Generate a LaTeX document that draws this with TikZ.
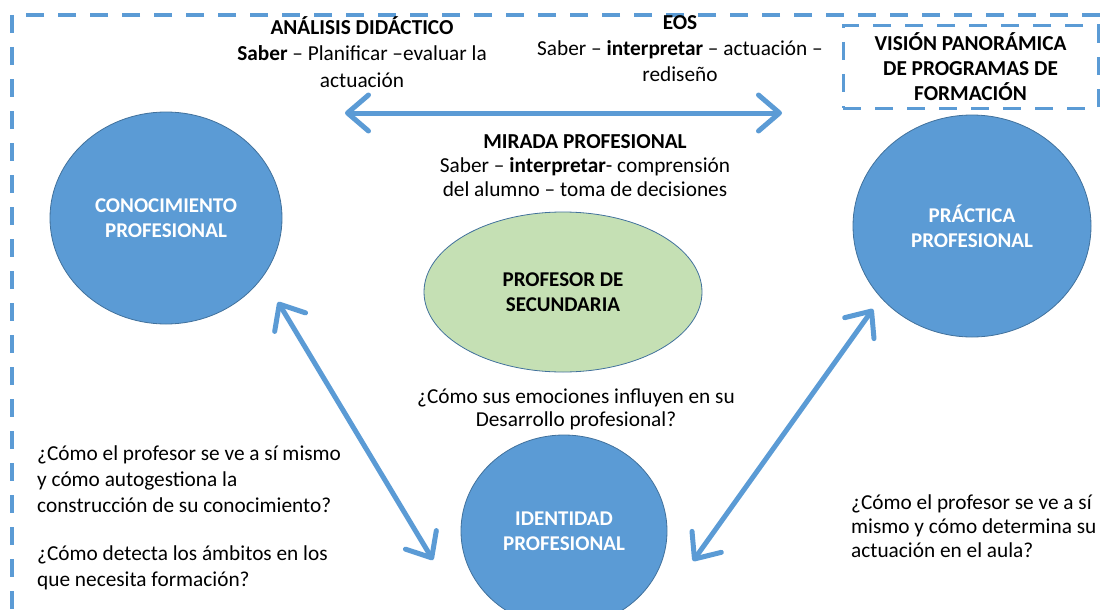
\documentclass[tikz,border=0pt]{standalone}
\usepackage{fontspec}
\setmainfont{Carlito}
\usetikzlibrary{shapes.geometric, arrows.meta, positioning}
\definecolor{ofblue}{RGB}{91,155,213}
\definecolor{ofedge}{RGB}{65,113,156}
\definecolor{ofgreen}{RGB}{197,224,180}

\begin{document}
\begin{tikzpicture}[
    x=1pt, y=-1pt,
    lbl/.style={align=center, inner sep=0pt, font=\fontsize{21.3}{25}\selectfont},
    blob/.style={ellipse, draw=ofedge, line width=0.8pt, fill=ofblue, text=white, align=center, inner sep=0pt, font=\fontsize{21}{25}\selectfont\bfseries},
    dashframe/.style={draw=ofblue, line width=3.5pt, dash pattern=on 18pt off 14pt},
    link/.style={draw=ofblue, line width=5pt, line cap=round, >={Straight Barb[length=21pt,width=36pt,round]}, <->}
]
\useasboundingbox (0,0) rectangle (1100,610);

% outer frame, open to the right and bottom
\draw[dashframe] (1100,15) -- (12,15) -- (12,610);

\node[blob, minimum width=232pt, minimum height=212pt] (conocimiento) at (166,218) {CONOCIMIENTO\\PROFESIONAL};
\node[blob, minimum width=238pt, minimum height=222pt] (practica) at (972,226) {PRÁCTICA\\PROFESIONAL};
\node[blob, minimum width=206pt, minimum height=192pt] (identidad) at (564,531) {IDENTIDAD\\PROFESIONAL};
\node[blob, fill=ofgreen, text=black, minimum width=278pt, minimum height=160pt] (profesor) at (563,292) {PROFESOR DE\\SECUNDARIA};

\node[lbl, font=\fontsize{21.3}{26.5}\selectfont] (analisis) at (362,52) {\textbf{ANÁLISIS DIDÁCTICO}\\\textbf{Saber} – Planificar –evaluar la\\actuación};
\node[lbl, font=\fontsize{21.3}{26}\selectfont] (eos) at (680,49) {\textbf{EOS}\\Saber – \textbf{interpretar} – actuación –\\rediseño};
\node[lbl, dashframe, line width=3pt, font=\fontsize{21.3}{25}\selectfont\bfseries, minimum width=255pt, minimum height=82pt] (vision) at (970.5,67) {VISIÓN PANORÁMICA\\DE PROGRAMAS DE\\FORMACIÓN};
\node[lbl, font=\fontsize{21.3}{24}\selectfont] (mirada) at (585,166) {\textbf{MIRADA PROFESIONAL}\\Saber – \textbf{interpretar}- comprensión\\del alumno – toma de decisiones};
\node[lbl, font=\fontsize{21.3}{23}\selectfont] (emociones) at (576,409) {¿Cómo sus emociones influyen en su\\Desarrollo profesional?};
\node[lbl, align=left, anchor=west, font=\fontsize{21.3}{26}\selectfont] (autogestion) at (37,479) {¿Cómo el profesor se ve a sí mismo\\y cómo autogestiona la\\construcción de su conocimiento?};
\node[lbl, align=left, anchor=west, font=\fontsize{21.3}{26}\selectfont] (ambitos) at (37,568) {¿Cómo detecta los ámbitos en los\\que necesita formación?};
\node[lbl, align=left, anchor=west, font=\fontsize{21.3}{24}\selectfont] (aula) at (851,526) {¿Cómo el profesor se ve a sí\\mismo y cómo determina su\\actuación en el aula?};

\coordinate (hl) at (345,113);
\coordinate (hr) at (782,113);
\coordinate (ct) at (278,302);
\coordinate (cb) at (433,560);
\coordinate (pt) at (873,309);
\coordinate (pb) at (693,561);

\draw[link] (hl) -- (hr);
\draw[link] (ct) -- (cb);
\draw[link] (pt) -- (pb);

\end{tikzpicture}
\end{document}
